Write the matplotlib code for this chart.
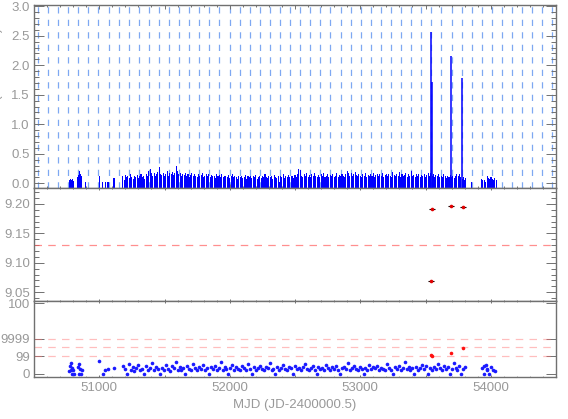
#!/usr/bin/env python3
import numpy as np
import matplotlib.pyplot as plt
from matplotlib.ticker import MultipleLocator, FuncFormatter

# --- top panel: light curve (rate) ---
early_mjd = [50772, 50780, 50788, 50796, 50804, 50836, 50842, 50848, 50854,
             50860, 50866, 50895, 51005, 51027, 51050, 51062, 51072, 51113]
early_rate = [0.06, 0.07, 0.05, 0.07, 0.04, 0.10, 0.14, 0.20, 0.16,
              0.12, 0.07, 0.02, 0.13, 0.03, 0.03, 0.03, 0.03, 0.09]

dense_start = 51180
dense_step = 10
dense_rate = [
    0.12, 0.05, 0.14, 0.10, 0.13, 0.09, 0.15, 0.11, 0.08, 0.13,
    0.10, 0.14, 0.09, 0.12, 0.16, 0.11, 0.13, 0.08, 0.15, 0.12,
    0.20, 0.24, 0.17, 0.13, 0.18, 0.12, 0.15, 0.19, 0.28, 0.16,
    0.14, 0.18, 0.12, 0.16, 0.20, 0.13, 0.17, 0.15, 0.19, 0.14,
    0.17, 0.30, 0.21, 0.15, 0.18, 0.13, 0.16, 0.14, 0.17, 0.12,
    0.15, 0.11, 0.14, 0.17, 0.12, 0.16, 0.13, 0.10, 0.15, 0.12,
    0.14, 0.17, 0.11, 0.13, 0.16, 0.12, 0.15, 0.10, 0.14, 0.12,
    0.13, 0.09, 0.15, 0.12, 0.14, 0.11, 0.16, 0.10, 0.13, 0.12,
    0.11, 0.14, 0.09, 0.12, 0.15, 0.10, 0.13, 0.11, 0.08, 0.12,
    0.10, 0.13, 0.09, 0.11, 0.14, 0.08, 0.12, 0.10, 0.13, 0.09,
    0.12, 0.10, 0.14, 0.08, 0.11, 0.13, 0.09, 0.12, 0.10, 0.15,
    0.11, 0.09, 0.13, 0.10, 0.12, 0.08, 0.14, 0.11, 0.09, 0.12,
    0.02, 0.13, 0.10, 0.15, 0.09, 0.12, 0.11, 0.14, 0.10, 0.13,
    0.12, 0.09, 0.14, 0.11, 0.16, 0.24, 0.22, 0.13, 0.10, 0.15,
    0.12, 0.17, 0.10, 0.14, 0.11, 0.16, 0.13, 0.18, 0.12, 0.10,
    0.14, 0.11, 0.15, 0.12, 0.17, 0.10, 0.13, 0.16, 0.11, 0.14,
    0.12, 0.15, 0.10, 0.13, 0.17, 0.11, 0.14, 0.12, 0.16, 0.13,
    0.11, 0.16, 0.20, 0.18, 0.13, 0.17, 0.12, 0.15, 0.19, 0.14,
    0.12, 0.16, 0.13, 0.11, 0.15, 0.12, 0.17, 0.10, 0.14, 0.13,
    0.15, 0.12, 0.18, 0.11, 0.14, 0.16, 0.12, 0.15, 0.13, 0.17,
    0.11, 0.14, 0.16, 0.12, 0.15, 0.13, 0.10, 0.19, 0.14, 0.12,
    0.16, 0.13, 0.19, 0.11, 0.15, 0.12, 0.14, 0.17, 0.11, 0.15,
    0.13, 0.20, 0.12, 0.14, 0.11, 0.16, 0.13, 0.15, 0.10, 0.14,
    0.12, 0.15, 0.11, 0.14, 0.18, 0.13, 0.17, 0.12, 0.15, 0.11,
    0.14, 0.12, 0.16, 0.10, 0.13, 0.11, 0.15, 0.12, 0.09, 0.13,
    0.11, 0.14, 0.10, 0.12, 0.09, 0.13, 0.16, 0.12, 0.15, 0.10,
    0.08, 0.11, 0.06, 0.09,
]

flare_mjd = [53540, 53553, 53696, 53780]
flare_rate = [2.57, 1.72, 2.15, 1.78]

late_mjd = [53852, 53930, 53940, 53950, 53962, 53972, 53982, 53992, 54002,
            54012, 54022, 54032, 54042]
late_rate = [0.02, 0.08, 0.06, 0.05, 0.03, 0.13, 0.09, 0.07, 0.10,
             0.08, 0.06, 0.09, 0.05]

# periodic guide lines (epoch and period of the dashed markers)
orbit_epoch = 50530
orbit_period = 77.3

# --- middle panel ---
mid_mjd = [53540, 53548, 53693, 53785]
mid_val = [9.069, 9.1915, 9.196, 9.195]
mid_ref = 9.13

# --- bottom panel (log-like units: 0, 99, 9999, 100 ticks) ---
bot_ticks = [0, 2, 4, 8]
bot_labels = ["0", "99", "9999", "100"]
bot_refs = [2, 3, 4]

bot_early_mjd = [50772, 50776, 50780, 50784, 50788, 50792, 50798, 50804,
                 50838, 50842, 50846, 50852, 50858, 50866, 51000, 51030,
                 51045, 51070, 51112]
bot_early_val = [0.3, 0.9, 0.5, 1.2, 0.0, 0.7, 0.4, 0.0,
                 0.8, 0.0, 1.1, 0.6, 0.0, 0.5, 1.5, 0.0,
                 0.4, 0.6, 0.7]

bot_start = 51180
bot_step = 15
bot_val = [
    0.9, 0.6, 0.0, 1.1, 0.5, 0.8, 0.3, 0.7, 1.0, 0.4,
    0.6, 0.0, 0.9, 0.5, 0.7, 1.2, 0.4, 0.8, 0.6, 0.0,
    0.7, 0.5, 1.0, 0.6, 0.3, 0.9, 0.7, 1.4, 0.5, 0.8,
    0.4, 0.7, 0.0, 0.9, 0.6, 0.5, 1.1, 0.7, 0.4, 0.8,
    0.6, 1.0, 0.5, 0.7, 0.0, 0.8, 0.6, 0.9, 0.4, 0.7,
    1.3, 0.5, 0.8, 0.6, 0.0, 0.7, 1.0, 0.5, 0.8, 0.6,
    0.4, 0.9, 0.7, 0.5, 1.1, 0.6, 0.0, 0.8, 0.5, 0.7,
    0.9, 0.6, 0.4, 0.8, 0.7, 1.2, 0.5, 0.6, 0.0, 0.8,
    0.5, 0.7, 1.0, 0.6, 0.4, 0.8, 0.7, 0.0, 0.9, 0.6,
    0.7, 0.5, 0.8, 1.1, 0.6, 0.4, 0.7, 0.9, 0.5, 0.0,
    0.8, 0.6, 0.7, 0.5, 1.0, 0.7, 0.4, 0.8, 0.6, 0.9,
    0.5, 0.0, 0.7, 0.8, 0.6, 1.2, 0.5, 0.7, 0.9, 0.6,
    0.4, 0.8, 0.6, 0.0, 0.7, 0.5, 1.0, 0.6, 0.8, 0.7,
    0.9, 0.5, 0.7, 0.6, 0.4, 1.1, 0.7, 0.5, 0.0, 0.8,
    0.6, 0.9, 0.5, 0.7, 1.3, 0.6, 0.8, 0.4, 0.7, 0.0,
    0.8, 0.5, 0.7, 1.0, 0.6, 0.9, 0.0, 0.7, 0.5, 0.8,
    0.6, 1.1, 0.7, 0.5, 0.9, 0.6, 0.8, 0.0, 0.6, 1.2,
    0.7, 0.5, 0.9, 0.0, 0.6, 0.8,
]

bot_late_mjd = [53930, 53945, 53952, 53960, 53968, 53975, 53990, 54000,
                54015, 54030]
bot_late_val = [0.7, 0.9, 0.0, 1.0, 0.6, 0.4, 0.0, 0.8, 0.5, 0.3]

bot_red_mjd = [53540, 53548, 53693, 53785]
bot_red_val = [2.1, 2.05, 2.35, 2.9]


def style(ax, xlen, ylen):
    ax.tick_params(which="both", direction="in", top=True, right=True,
                   color="#707070", labelcolor="#999999", labelsize=9.5,
                   width=0.7)
    ax.tick_params(axis="x", which="major", length=xlen)
    ax.tick_params(axis="x", which="minor", length=xlen / 2)
    ax.tick_params(axis="y", which="major", length=ylen, pad=3)
    ax.tick_params(axis="y", which="minor", length=ylen / 2)
    for s in ax.spines.values():
        s.set_color("#707070")
        s.set_linewidth(1.0)
    ax.xaxis.set_major_locator(MultipleLocator(500))
    ax.xaxis.set_minor_locator(MultipleLocator(100))


def main():
    plt.rcParams["font.family"] = ["Liberation Sans", "DejaVu Sans"]
    fig = plt.figure(figsize=(5.68, 4.19), dpi=100)
    left, width = 34 / 568, 522 / 568
    ax1 = fig.add_axes([left, (419 - 188) / 419, width, 183 / 419])
    ax2 = fig.add_axes([left, (419 - 301) / 419, width, 113 / 419], sharex=ax1)
    ax3 = fig.add_axes([left, (419 - 377) / 419, width, 76 / 419], sharex=ax1)

    xlim = (50500, 54500)
    ybot = -0.08

    # top panel
    guides = np.arange(orbit_epoch, xlim[1], orbit_period)
    ax1.vlines(guides, ybot, 3.05, color="#7ea8f2", lw=0.9,
               linestyles=(0, (5, 5)), zorder=1)
    dense_mjd = dense_start + dense_step * np.arange(len(dense_rate))
    for m, r in [(early_mjd, early_rate), (dense_mjd, dense_rate),
                 (late_mjd, late_rate)]:
        r = np.asarray(r)
        ax1.bar(m, r - ybot, bottom=ybot, width=8, color="#0000ff",
                linewidth=0, zorder=2)
    ax1.vlines(flare_mjd, ybot, flare_rate, color="#0000ff", lw=1.1, zorder=3)
    ax1.set_xlim(*xlim)
    ax1.set_ylim(ybot, 3.02)
    ax1.yaxis.set_major_locator(MultipleLocator(0.5))
    ax1.yaxis.set_minor_locator(MultipleLocator(0.1))
    ax1.yaxis.set_major_formatter(FuncFormatter(lambda v, p: "%.1f" % v))
    style(ax1, 2.7, 7.5)
    ax1.tick_params(labelbottom=False)

    # middle panel
    ax2.axhline(mid_ref, color="#ff6060", lw=0.9, alpha=0.7, dashes=(6, 5))
    ax2.errorbar(mid_mjd, mid_val, xerr=22, fmt="none", ecolor="black",
                 elinewidth=0.8, capsize=0)
    ax2.plot(mid_mjd, mid_val, "o", color="#e00000", ms=2.6, mew=0)
    ax2.set_ylim(9.035, 9.227)
    ax2.yaxis.set_major_locator(MultipleLocator(0.05))
    ax2.yaxis.set_minor_locator(MultipleLocator(0.01))
    ax2.yaxis.set_major_formatter(FuncFormatter(lambda v, p: "%.2f" % v))
    style(ax2, 1.7, 7.5)
    ax2.tick_params(labelbottom=False)

    # bottom panel
    for r in bot_refs:
        ax3.axhline(r, color="#ff7070", lw=0.9, alpha=0.45, dashes=(6, 5))
    bot_mjd = bot_start + bot_step * np.arange(len(bot_val))
    for m, v in [(bot_early_mjd, bot_early_val), (bot_mjd, bot_val),
                 (bot_late_mjd, bot_late_val)]:
        ax3.plot(m, v, "o", color="#1a1aff", ms=2.6, mew=0)
    ax3.plot(bot_red_mjd, bot_red_val, "o", color="#ff1010", ms=2.6, mew=0)
    ax3.set_ylim(-0.34, 8.23)
    ax3.set_yticks(bot_ticks)
    ax3.set_yticklabels(bot_labels)
    style(ax3, 1.2, 7.5)
    ax3.xaxis.set_major_formatter(
        FuncFormatter(lambda v, p: "%d" % v if v % 1000 == 0 else ""))
    ax3.set_xlabel("MJD (JD-2400000.5)", color="#999999", fontsize=9.5,
                   labelpad=4)
    ax3.set_xlim(*xlim)

    # left label, mostly cut off by the image edge as in the original
    fig.text(-3 / 568, (419 - 96) / 419, "ASM Rate (counts/sec)",
             rotation=90, ha="center", va="center", color="#999999",
             fontsize=9.5)

    fig.savefig("out.png", dpi=100)


if __name__ == "__main__":
    main()
